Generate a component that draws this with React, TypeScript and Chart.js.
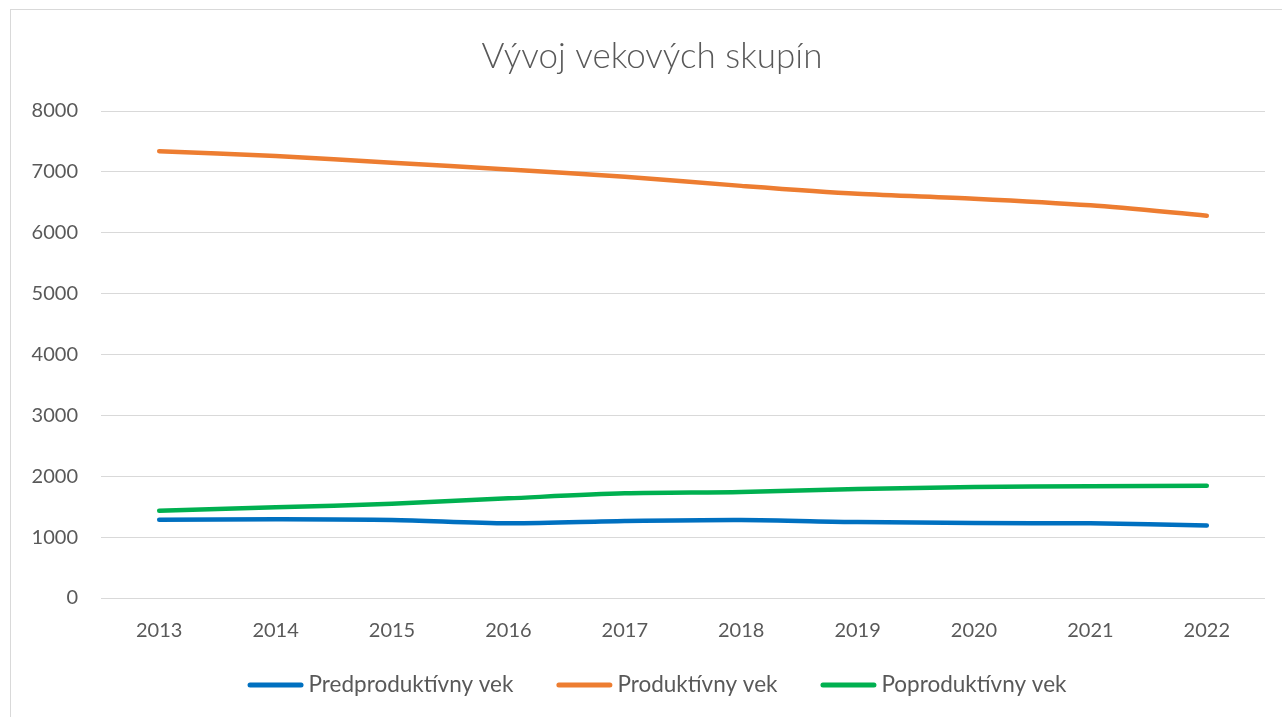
import { useEffect, useRef } from "react";
import { Chart, registerables } from "chart.js";

Chart.register(...registerables);

const years = ["2013", "2014", "2015", "2016", "2017", "2018", "2019", "2020", "2021", "2022"];
const predproduktivny = [1286, 1292, 1281, 1226, 1264, 1281, 1248, 1232, 1226, 1193];
const produktivny = [7340, 7260, 7150, 7040, 6920, 6770, 6640, 6560, 6450, 6280];
const poproduktivny = [1434, 1489, 1549, 1637, 1719, 1741, 1790, 1823, 1834, 1845];
const seriesNames = ["Predproduktívny vek", "Produktívny vek", "Poproduktívny vek"];
const seriesColors = ["#0070C0", "#ED7D31", "#00B050"];
const chartTitle = "Vývoj vekových skupín";

const FONT = "Lato, 'Open Sans', sans-serif";
const TEXT = "#595959";
const TITLE_CENTER_X = 652;
const TITLE_Y = 57;
const LEGEND_CENTER_X = 657;
const LEGEND_Y = 685;

const decorPlugin = {
  id: "excelDecor",
  afterDraw(chart: any) {
    const ctx = chart.ctx as CanvasRenderingContext2D;
    ctx.save();
    // title
    ctx.font = `300 35px ${FONT}`;
    ctx.fillStyle = TEXT;
    ctx.textAlign = "center";
    ctx.textBaseline = "middle";
    ctx.fillText(chartTitle, TITLE_CENTER_X, TITLE_Y);
    // legend
    ctx.font = `22.5px ${FONT}`;
    const items = chart.data.datasets.map((ds: any) => ({
      label: ds.label as string,
      color: ds.borderColor as string,
      w: ctx.measureText(ds.label).width,
    }));
    const lineW = 56;
    const gapText = 5;
    const gapItem = 43;
    const total =
      items.reduce((s: number, it: any) => s + lineW + gapText + it.w, 0) + gapItem * (items.length - 1);
    let x = LEGEND_CENTER_X - total / 2;
    const y = LEGEND_Y;
    ctx.textAlign = "left";
    for (const it of items) {
      ctx.strokeStyle = it.color;
      ctx.lineWidth = 5;
      ctx.lineCap = "round";
      ctx.beginPath();
      ctx.moveTo(x + 2.5, y);
      ctx.lineTo(x + lineW - 2.5, y);
      ctx.stroke();
      ctx.fillStyle = TEXT;
      ctx.fillText(it.label, x + lineW + gapText, y);
      x += lineW + gapText + it.w + gapItem;
    }
    ctx.restore();
  },
};

export default function App() {
  const ref = useRef<HTMLCanvasElement>(null);

  useEffect(() => {
    const values = [predproduktivny, produktivny, poproduktivny];
    const chart = new Chart(ref.current as HTMLCanvasElement, {
      type: "line",
      data: {
        labels: years,
        datasets: values.map((v, i) => ({
          label: seriesNames[i],
          data: v,
          borderColor: seriesColors[i],
          backgroundColor: seriesColors[i],
          borderWidth: 4.5,
          pointRadius: 0,
          tension: 0.3,
          borderCapStyle: "round" as const,
          borderJoinStyle: "round" as const,
        })),
      },
      plugins: [decorPlugin],
      options: {
        animation: false,
        responsive: false,
        maintainAspectRatio: false,
        layout: { padding: { left: 20, right: 17, top: 111, bottom: 61 } },
        plugins: {
          tooltip: { enabled: false },
          legend: { display: false },
          title: { display: false },
        },
        scales: {
          x: {
            offset: true,
            grid: { display: false },
            border: { display: false },
            ticks: { color: TEXT, font: { family: FONT, size: 20 }, padding: 13 },
          },
          y: {
            min: 0,
            max: 8000,
            afterFit: (s: any) => {
              s.width = 81;
            },
            grid: { color: "#d9d9d9", lineWidth: 1, drawTicks: false },
            border: { display: false },
            ticks: {
              stepSize: 1000,
              color: TEXT,
              font: { family: FONT, size: 20 },
              padding: 23,
              callback: (v: any) => String(v),
            },
          },
        },
      },
    });
    return () => chart.destroy();
  }, []);

  return (
    <div style={{ position: "fixed", left: 0, top: 0, width: 1282, height: 717, background: "#fff", overflow: "hidden" }}>
      <div
        style={{
          position: "absolute",
          left: 10,
          top: 9,
          width: 1300,
          height: 740,
          borderLeft: "1px solid #d9d9d9",
          borderTop: "1px solid #d9d9d9",
        }}
      />
      <canvas ref={ref} width={1282} height={717} style={{ position: "absolute", left: 0, top: 0 }} />
    </div>
  );
}
